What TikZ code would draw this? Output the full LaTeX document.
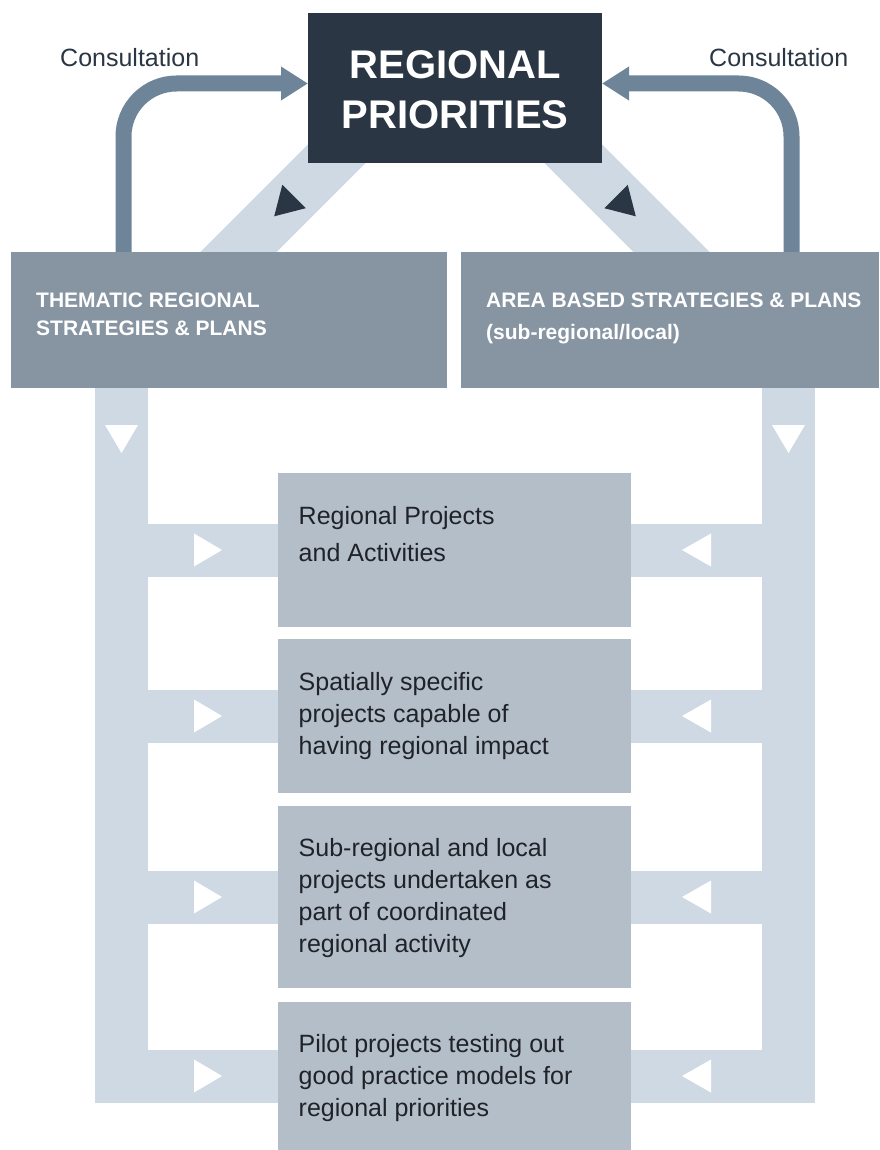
\documentclass[tikz,border=0pt]{standalone}
\usepackage{fontspec}
\setmainfont{Liberation Sans}
\usetikzlibrary{arrows.meta,calc}
\definecolor{navy}{HTML}{2A3644}
\definecolor{stratgrey}{HTML}{8794A2}
\definecolor{projgrey}{HTML}{B4BEC9}
\definecolor{bandblue}{HTML}{CFD9E3}
\definecolor{consblue}{HTML}{6D8499}
\definecolor{textdark}{HTML}{1F2329}
\pgfdeclarelayer{bg}
\pgfsetlayers{bg,main}
\begin{document}
\begin{tikzpicture}[x=1pt,y=-1pt,
  box/.style={rectangle, inner sep=0pt, outer sep=0pt, anchor=north west},
  priobox/.style={box, fill=navy, minimum width=294pt, minimum height=150pt},
  stratbox/.style={box, fill=stratgrey, minimum height=136pt},
  projbox/.style={box, fill=projgrey, minimum width=353pt},
  band/.style={draw=bandblue, line width=53pt, line join=miter, line cap=butt},
  diagband/.style={draw=bandblue, line width=54pt, line cap=butt},
  cons/.style={draw=consblue, line width=16pt, rounded corners=53pt,
    -{Triangle[length=27pt,width=32pt]}},
  constext/.style={anchor=base west, inner sep=0pt, text=navy, font=\fontsize{25}{30}\selectfont},
  strattext/.style={anchor=base west, inner sep=0pt, text=white, font=\bfseries\fontsize{21}{28}\selectfont},
  projtext/.style={anchor=base west, inner sep=0pt, text=textdark, font=\fontsize{25}{32}\selectfont},
  whitetri/.style={fill=white},
  darktri/.style={fill=navy}]
\useasboundingbox (0,0) rectangle (879,1150);

% boxes
\path
  (308,13) node[priobox] (prio) {}
  (11,252) node[stratbox, minimum width=436pt] (them) {}
  (461,252) node[stratbox, minimum width=418pt] (area) {}
  (278,473) node[projbox, minimum height=154pt] (p1) {}
  (278,639) node[projbox, minimum height=154pt] (p2) {}
  (278,806) node[projbox, minimum height=182pt] (p3) {}
  (278,1002) node[projbox, minimum height=148pt] (p4) {};

\coordinate (lv) at ($(them.south west)+(110.5,0)$);
\coordinate (rv) at ($(area.south west)+(327.5,0)$);

\begin{pgfonlayer}{bg}
% light bands
\draw[band] (lv) -- (lv |- p4.west) -- (rv |- p4.east) -- (rv);
\foreach \p in {p1,p2,p3}{
  \draw[band] (lv |- \p.west) -- (rv |- \p.east);
}
\draw[diagband] ($(prio.north west)+(42.5,127)$) -- ($(them.north west)+(189.5,38)$);
\draw[diagband] ($(prio.north east)+(-42.5,127)$) -- ($(area.north west)+(248.5,38)$);
% consultation arrows
\draw[cons] ($(them.north west)+(112.5,10)$) |- ($(prio.north west)+(0,70.5)$);
\draw[cons] ($(area.north west)+(330.5,10)$) |- ($(prio.north east)+(0,70.5)$);
\end{pgfonlayer}

% dark arrowheads on diagonal bands
\fill[darktri] (274.2,216.3) -- (305.7,208.2) -- (282.3,184.8) -- cycle;
\fill[darktri] (635.8,216.3) -- (604.3,208.2) -- (627.7,184.8) -- cycle;

% white arrowheads
\fill[whitetri] ($(lv)+(-16.5,37)$) -- ($(lv)+(16.5,37)$) -- ($(lv)+(0,65)$) -- cycle;
\fill[whitetri] ($(rv)+(-16.5,37)$) -- ($(rv)+(16.5,37)$) -- ($(rv)+(0,65)$) -- cycle;
\foreach \p in {p1,p2,p3,p4}{
  \fill[whitetri] ($(lv |- \p.west)+(72.5,-16.5)$) -- ($(lv |- \p.west)+(72.5,16.5)$) -- ($(lv |- \p.west)+(100.5,0)$) -- cycle;
  \fill[whitetri] ($(rv |- \p.east)+(-77.5,-16.5)$) -- ($(rv |- \p.east)+(-77.5,16.5)$) -- ($(rv |- \p.east)+(-106.5,0)$) -- cycle;
}

% texts
\node[anchor=base, inner sep=0pt, text=white, font=\bfseries\fontsize{40}{50}\selectfont] (priotext)
  at ($(prio.north)+(0,66)$) {\parbox[t]{294pt}{\centering REGIONAL\\PRIORITIES}};
\node[constext] (consl) at (60,67) {Consultation};
\node[constext] (consr) at (709,67) {Consultation};
\node[strattext] (themtext) at ($(them.north west)+(25,55)$)
  {\parbox[t]{410pt}{THEMATIC REGIONAL\\STRATEGIES \& PLANS}};
\node[strattext] (areatext) at ($(area.north west)+(25,55)$)
  {\parbox[t]{410pt}{AREA BASED STRATEGIES \& PLANS\\[4pt](sub-regional/local)}};
\node[projtext] (p1text) at ($(p1.north west)+(20.5,51)$)
  {\parbox[t]{330pt}{Regional Projects\\[5.5pt]and Activities}};
\node[projtext] (p2text) at ($(p2.north west)+(20.5,51.5)$)
  {\parbox[t]{330pt}{Spatially specific\\projects capable of\\having regional impact}};
\node[projtext] (p3text) at ($(p3.north west)+(20.5,50)$)
  {\parbox[t]{330pt}{Sub-regional and local\\projects undertaken as\\part of coordinated\\regional activity}};
\node[projtext] (p4text) at ($(p4.north west)+(20.5,50.5)$)
  {\parbox[t]{330pt}{Pilot projects testing out\\good practice models for\\regional priorities}};
\end{tikzpicture}
\end{document}
